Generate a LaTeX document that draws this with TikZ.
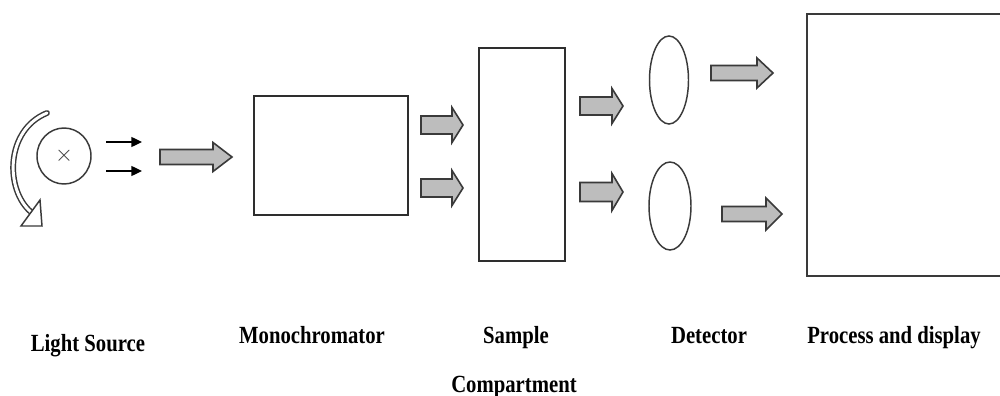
\documentclass[tikz,border=0pt]{standalone}
\usepackage{fontspec}
\setmainfont{Liberation Serif}[FakeStretch=0.84]
\usetikzlibrary{arrows.meta,shapes.geometric}
\definecolor{edge}{HTML}{3A3A3A}
\definecolor{boxedge}{HTML}{2E2E2E}
\definecolor{fillg}{HTML}{BDBDBD}
\def\u{0.75pt}
\tikzset{
  box/.style={draw=boxedge, line width=1.1pt, fill=none, inner sep=0pt, outer sep=0pt},
  oval/.style={ellipse, draw=edge, line width=1.1pt, inner sep=0pt, outer sep=0pt},
  garrowstyle/.style={draw=edge, fill=fillg, line width=1.2pt, line join=miter},
  thinarrow/.style={-{Triangle[length=8pt,width=7.5pt]}, line width=1pt, black},
  lab/.style={font=\bfseries\fontsize{18.5}{20}\selectfont, anchor=base, inner sep=0pt}
}
\newcommand\garrow[6]{% x1 x2 headstart yc shafthalf headhalf
  \draw[garrowstyle] (#1,#4-#5) -- (#3,#4-#5) -- (#3,#4-#6) -- (#2,#4) -- (#3,#4+#6) -- (#3,#4+#5) -- (#1,#4+#5) -- cycle;}
\begin{document}
\begin{tikzpicture}[x=0.75pt,y=-0.75pt]
\clip (0,0) rectangle (1000,396);
\fill[white] (0,0) rectangle (1000,396);
% light source
\node[oval, minimum width=54*\u, minimum height=56*\u] (src) at (64,156) {};
\node[text=edge, inner sep=0pt, font=\fontsize{17}{17}\selectfont] (srcx) at (src.center) {$\times$};
\coordinate (rotA) at (47,113);
\coordinate (rotB) at (31,212);
\draw[edge, line width=1.1pt, double=white, double distance=2.2pt, line cap=round] (rotA) .. controls (5,130) and (5,190) .. (rotB);
\draw[edge, fill=white, line width=1.1pt, line join=miter] (21,226) -- (40,200) -- (42,226) -- cycle;
\coordinate (a1s) at (106,142); \coordinate (a1e) at (142,142);
\coordinate (a2s) at (106,171); \coordinate (a2e) at (142,171);
\draw[thinarrow] (a1s) -- (a1e);
\draw[thinarrow] (a2s) -- (a2e);
\garrow{160}{232}{213}{157}{7.5}{14.5}
% monochromator
\node[box, minimum width=154*\u, minimum height=119*\u] (mono) at (331,155.5) {};
\garrow{421}{463}{452}{125}{9}{17.5}
\garrow{421}{463}{452}{188}{9}{17.5}
% sample
\node[box, minimum width=86*\u, minimum height=213*\u] (sample) at (522,154.5) {};
\garrow{580}{623}{612}{106}{9}{17.5}
\garrow{580}{623}{612}{192}{9.5}{18.5}
% detectors
\node[oval, minimum width=39*\u, minimum height=88*\u] (det1) at (669,80) {};
\node[oval, minimum width=42*\u, minimum height=88*\u] (det2) at (670,206) {};
\garrow{711}{773}{757}{73}{7.5}{15}
\garrow{722}{782}{766}{214}{7.5}{16}
% process and display
\draw[draw=edge, line width=1.8pt] (1010,14) -- (807,14) -- (807,276) -- (1010,276);
\node[box, draw=none, minimum width=194*\u, minimum height=262*\u] (proc) at (904,145) {};
% labels
\node[lab] (l1) at (88,351) {Light Source};
\node[lab] (l2) at (312,343) {Monochromator};
\node[lab] (l3) at (516,343) {Sample};
\node[lab] (l3b) at (514,392) {Compartment};
\node[lab] (l4) at (709,343) {Detector};
\node[lab] (l5) at (894,343) {Process and display};
\end{tikzpicture}
\end{document}
